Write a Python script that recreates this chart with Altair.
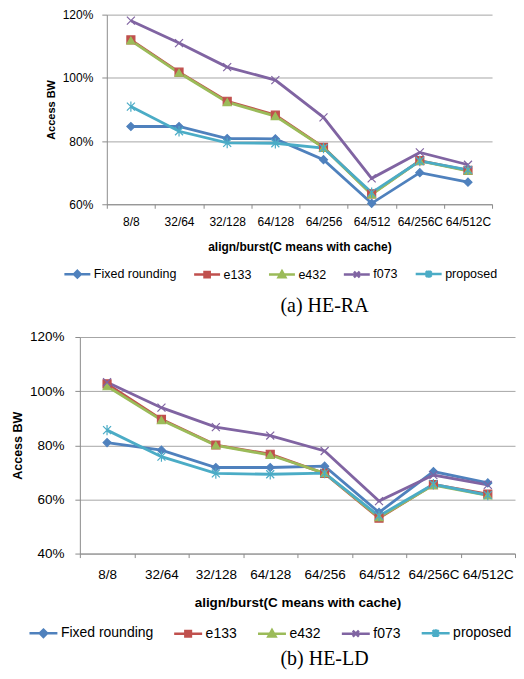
import altair as alt
import pandas as pd

cats = ["8/8", "32/64", "32/128", "64/128", "64/256", "64/512", "64/256C", "64/512C"]
series = ["Fixed rounding", "e133", "e432", "f073", "proposed"]
colors = ["#4F81BD", "#C0504D", "#9BBB59", "#8064A2", "#4BACC6"]

# (a) HE-RA  (Access BW, %)
ra_fixed = [84.6, 84.6, 80.8, 80.7, 74.1, 60.3, 70.0, 67.0]
ra_e133 = [112.0, 101.8, 92.6, 88.2, 78.0, 63.3, 73.8, 70.7]
ra_e432 = [111.8, 101.6, 92.3, 87.9, 77.9, 63.1, 73.7, 70.6]
ra_f073 = [118.1, 111.0, 103.4, 99.3, 87.5, 68.2, 76.4, 72.5]
ra_prop = [90.9, 83.1, 79.4, 79.3, 77.8, 63.7, 73.7, 70.9]

# (b) HE-LD  (Access BW, %)
ld_fixed = [81.0, 78.2, 71.8, 71.8, 72.3, 55.2, 70.3, 66.1]
ld_e133 = [102.7, 89.6, 80.1, 76.7, 69.6, 53.1, 65.5, 62.0]
ld_e432 = [101.8, 89.3, 80.0, 76.4, 69.7, 53.4, 65.3, 61.5]
ld_f073 = [103.3, 93.9, 86.7, 83.6, 77.9, 59.4, 69.0, 65.4]
ld_prop = [85.6, 75.8, 69.6, 69.3, 69.7, 53.9, 65.6, 61.6]

X_PATH = "M-1,-1L1,1M-1,1L1,-1"
AST_PATH = "M-1,-1L1,1M-1,1L1,-1M0,-1.3L0,1.3"
plot_shapes = ["diamond", "square", "triangle-up", X_PATH, AST_PATH]
legend_shapes = [
    "M-1,0L1,0M0,-0.26L0.26,0L0,0.26L-0.26,0Z",
    "M-1,0L1,0M-0.2,-0.2L0.2,-0.2L0.2,0.2L-0.2,0.2Z",
    "M-1,0L1,0M0,-0.26L0.26,0.2L-0.26,0.2Z",
    "M-1,0L1,0M-0.22,-0.22L0.22,0.22M-0.22,0.22L0.22,-0.22",
    "M-1,0L1,0M-0.22,-0.22L0.22,0.22M-0.22,0.22L0.22,-0.22M0,-0.28L0,0.28",
]

SANS = "Liberation Sans"
SERIF = "Liberation Serif"
GRID = "#A6A6A6"
AXIS = "#8C8C8C"


def panel(lists, ymin, width, height, xrange, yoff, tick_fs, title_fs, ytitle_fs,
          leg_fs, sym, leg_x, leg_y, col_pad, caption, cap_dx, cap_offset,
          ylab_pad, ytitle_pad, xlab_pad, xtitle_pad):
    rows = []
    for s, vals in zip(series, lists):
        for c, v in zip(cats, vals):
            rows.append({"cat": c, "series": s, "val": v})
    df = pd.DataFrame(rows)

    x = alt.X(
        "cat:N", sort=cats, bandPosition=0.5,
        scale=alt.Scale(type="band", domain=cats, range=xrange,
                        paddingInner=0, paddingOuter=0),
        axis=alt.Axis(
            title="align/burst(C means with cache)", titleFont=SANS,
            titleFontWeight="bold", titleFontSize=title_fs, titleColor="black",
            titlePadding=xtitle_pad,
            labelAngle=0, labelFont=SANS, labelFontSize=tick_fs, labelColor="black",
            labelPadding=xlab_pad, labelOverlap=False, labelBound=False,
            tickBand="extent", tickSize=4, tickColor=AXIS, domainColor=AXIS,
            grid=False,
        ),
    )
    y = alt.Y(
        "val:Q",
        scale=alt.Scale(domain=[ymin, 120], nice=False, zero=False),
        axis=alt.Axis(
            title="Access BW", titleFont=SANS, titleFontWeight="bold",
            titleFontSize=ytitle_fs, titleColor="black", titlePadding=ytitle_pad,
            values=list(range(ymin, 121, 20)), labelExpr="datum.value + '%'",
            labelFont=SANS, labelFontSize=tick_fs, labelColor="black",
            labelPadding=ylab_pad, tickSize=5, tickColor=AXIS, domainColor=AXIS,
            grid=True, gridColor=GRID, offset=yoff,
        ),
    )
    base = alt.Chart(df)
    lines = base.mark_line(strokeWidth=2.8).encode(
        x=x, y=y,
        color=alt.Color("series:N", scale=alt.Scale(domain=series, range=colors), legend=None),
    )
    points = base.mark_point(filled=True, size=64, strokeWidth=1.2, opacity=1).encode(
        x=x, y=y,
        fill=alt.Fill("series:N", scale=alt.Scale(domain=series, range=colors), legend=None),
        stroke=alt.Stroke("series:N", scale=alt.Scale(domain=series, range=colors), legend=None),
        shape=alt.Shape("series:N", scale=alt.Scale(domain=series, range=plot_shapes), legend=None),
    )
    leg = alt.Legend(
        orient="none", legendX=leg_x, legendY=leg_y, direction="horizontal",
        columns=5, title=None, padding=0, labelFont=SANS, labelFontSize=leg_fs,
        labelColor="black", labelOffset=2, columnPadding=col_pad,
        symbolSize=sym * sym, symbolStrokeWidth=2.5, symbolOpacity=1,
    )
    legend_layer = base.transform_filter("false").mark_point(
        filled=True, strokeWidth=2.5, opacity=1
    ).encode(
        fill=alt.Fill("series:N", scale=alt.Scale(domain=series, range=colors), legend=leg),
        stroke=alt.Stroke("series:N", scale=alt.Scale(domain=series, range=colors), legend=leg),
        shape=alt.Shape("series:N", scale=alt.Scale(domain=series, range=legend_shapes), legend=leg),
    )
    return alt.layer(lines, points, legend_layer).resolve_scale(
        color="independent", fill="independent", stroke="independent", shape="independent"
    ).properties(
        width=width, height=height,
        title=alt.TitleParams(caption, orient="bottom", anchor="start", frame="group",
                              font=SERIF, fontSize=20, fontWeight="normal",
                              color="black", dx=cap_dx, offset=cap_offset),
    )


top = panel([ra_fixed, ra_e133, ra_e432, ra_f073, ra_prop], 60, 413, 190, [27, 413], -27,
            12, 12, 11, 12.5, 26, -17, 245, 12, "(a) HE-RA", 201, 13,
            9, 6, 8, 14)
bottom = panel([ld_fixed, ld_e133, ld_e432, ld_f073, ld_prop], 40, 436, 217, [0, 436], 0,
               13.5, 13.5, 12.5, 14, 28, -52, 281, 15, "(b) HE-LD", 201, 7,
               11, 5, 10, 15)

chart = alt.vconcat(top, bottom, spacing=14).properties(
    padding={"left": 3, "top": 0, "right": 0, "bottom": 0}
).configure_view(stroke=None)

chart.save("out.html", embed_options={"renderer": "svg", "actions": False})
